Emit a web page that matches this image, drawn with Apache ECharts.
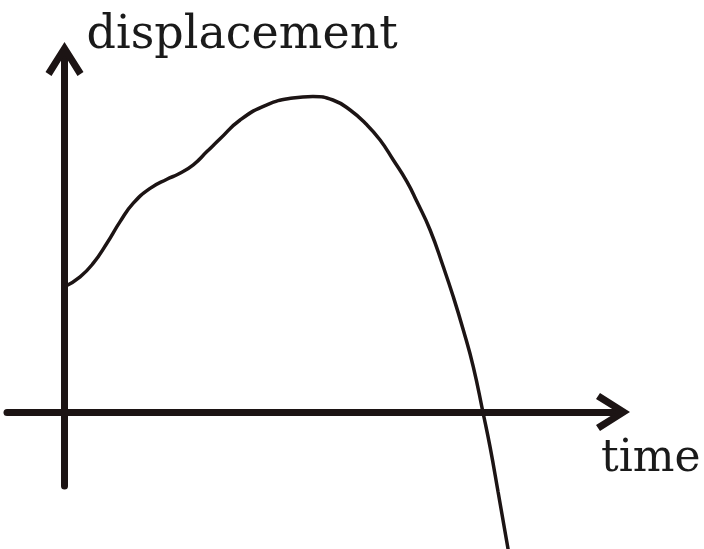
<!DOCTYPE html>
<html>
<head>
<meta charset="utf-8">
<style>
  html, body { margin: 0; padding: 0; background: #fff; }
  #chart { width: 704px; height: 549px; }
</style>
<script src="https://cdn.jsdelivr.net/npm/echarts@6/dist/echarts.min.js"></script>
</head>
<body>
<div id="chart"></div>
<script>
// time / displacement (arbitrary units)
const times = [0, 0.39, 0.72, 1.06, 1.39, 1.72, 2.14, 2.56, 2.85, 3.22, 3.56, 3.89, 4.39, 5.06, 5.71, 6.21, 6.71, 7.14, 7.56, 7.89, 8.22, 8.56, 8.81, 9.14, 9.47, 9.72, 9.97, 10.22, 10.46, 10.64, 10.84, 11.09]
const displacement = [3.13, 3.38, 3.72, 4.22, 4.76, 5.22, 5.59, 5.82, 5.95, 6.18, 6.51, 6.83, 7.30, 7.68, 7.85, 7.89, 7.80, 7.55, 7.18, 6.80, 6.30, 5.76, 5.26, 4.55, 3.63, 2.88, 2.05, 1.13, 0, -0.88, -2.00, -3.43]
const xLabel = 'time'
const yLabel = 'displacement'

const ink = '#1c1414'
const chevron = 'path://M0,0 L19,30 L13,34 L0,13 L-13,34 L-19,30 Z'
const font = 'DejaVu Serif'

const chart = echarts.init(document.getElementById('chart'))

function axisLine () {
  return {
    show: true,
    onZero: true,
    symbol: ['none', chevron],
    symbolSize: [38, 34],
    symbolOffset: [0, -8],
    lineStyle: { color: ink, width: 7 }
  }
}

chart.setOption({
  animation: false,
  grid: { left: 7, right: 83, top: 51, bottom: 63 },
  xAxis: {
    type: 'value',
    min: -1.4375,
    max: 13.9125,
    name: xLabel,
    nameLocation: 'end',
    nameGap: -20,
    nameTextStyle: {
      fontFamily: font, fontSize: 44, color: '#1a1a1a',
      align: 'left', verticalAlign: 'top', padding: [26, 0, 0, 0]
    },
    axisLine: axisLine(),
    axisTick: { show: false },
    axisLabel: { show: false },
    splitLine: { show: false }
  },
  yAxis: {
    type: 'value',
    min: -1.85,
    max: 9.025,
    name: yLabel,
    nameLocation: 'end',
    nameGap: -8,
    nameTextStyle: {
      fontFamily: font, fontSize: 46, color: '#1a1a1a',
      align: 'left', verticalAlign: 'bottom', padding: [0, 0, 0, 22]
    },
    axisLine: axisLine(),
    axisTick: { show: false },
    axisLabel: { show: false },
    splitLine: { show: false }
  },
  series: [{
    type: 'line',
    data: times.map((t, i) => [t, displacement[i]]),
    smooth: 0.5,
    showSymbol: false,
    clip: false,
    lineStyle: { color: ink, width: 3.5 }
  }]
})
</script>
</body>
</html>
